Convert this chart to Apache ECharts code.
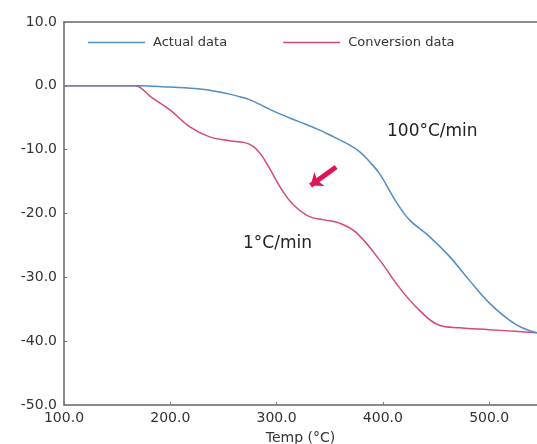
<!DOCTYPE html>
<html>
<head>
<meta charset="utf-8">
<script src="https://cdn.jsdelivr.net/npm/echarts@6/dist/echarts.min.js"></script>
<style>
  html, body { margin: 0; padding: 0; background: #fff; }
  #chart { width: 537px; height: 444px; }
</style>
</head>
<body>
<div id="chart"></div>
<script>
// Weight change (%) vs temperature, measured at 100 °C/min and converted to 1 °C/min
const actualData = [
  [100, 0], [170, 0], [200, -0.2], [228, -0.5], [250, -1.1], [265, -1.7],
  [275, -2.2], [290, -3.4], [303, -4.4], [321, -5.6], [340, -6.9], [350, -7.7],
  [368, -9.2], [378, -10.3], [387, -11.8], [397, -13.8], [413, -18.3], [425, -21.0],
  [443, -23.5], [462, -26.6], [481, -30.4], [500, -34.0], [519, -36.7], [531, -37.9],
  [545, -38.7]
];
const conversionData = [
  [100, 0], [166, 0], [183, -1.9], [200, -3.8], [218, -6.4], [237, -8.0],
  [256, -8.6], [270, -8.9], [278, -9.5], [285, -10.7], [293, -12.8], [305, -16.3],
  [315, -18.5], [331, -20.5], [345, -21.0], [359, -21.5], [375, -23.0], [397, -27.3],
  [415, -31.5], [434, -35.1], [453, -37.5], [472, -37.9], [500, -38.2], [528, -38.5],
  [545, -38.7]
];
const seriesNames = ['Actual data', 'Conversion data'];
const xTickLabels = ['100.0', '200.0', '300.0', '400.0', '500.0'];
const yTickLabels = ['-50.0', '-40.0', '-30.0', '-20.0', '-10.0', '0.0', '10.0'];
// Arrow showing the shift from the measured curve to the converted one
const shiftArrow = [[356, -12.7], [332, -15.6]];

const blue = '#4f8fc4';
const pink = '#d6477a';
const magenta = '#e0135c';
const fontFam = '"DejaVu Sans", Verdana, sans-serif';

const chart = echarts.init(document.getElementById('chart'));
chart.setOption({
  animation: false,
  backgroundColor: '#fff',
  grid: { left: 64, right: 0, top: 22, bottom: 39, outerBoundsMode: 'none', containLabel: false },
  legend: {
    data: seriesNames,
    left: 83, top: 31,
    itemWidth: 57, itemHeight: 1.5, itemGap: 56,
    icon: 'rect',
    textStyle: { fontSize: 13, color: '#333', fontFamily: fontFam, padding: [0, 0, 0, 3] }
  },
  xAxis: [{
    type: 'value', min: 100, max: 545, interval: 100,
    name: 'Temp (°C)', nameLocation: 'middle', nameGap: 26,
    nameTextStyle: { fontSize: 14, color: '#333', fontFamily: fontFam },
    axisLine: { onZero: false, lineStyle: { color: '#8a8a8a', width: 2 } },
    axisTick: { inside: true, length: 3, lineStyle: { color: '#777' } },
    axisLabel: {
      showMaxLabel: false, margin: 6, fontSize: 14, color: '#333', fontFamily: fontFam,
      formatter: v => xTickLabels[Math.round((v - 100) / 100)] || ''
    },
    splitLine: { show: false }
  }, {
    type: 'value', position: 'top', min: 100, max: 545,
    axisLine: { show: true, onZero: false, lineStyle: { color: '#666', width: 1.5 } },
    axisTick: { show: false }, axisLabel: { show: false }, splitLine: { show: false }
  }],
  yAxis: {
    type: 'value', min: -50, max: 10, interval: 10,
    axisLine: { show: true, onZero: false, lineStyle: { color: '#666', width: 1.5 } },
    axisTick: { show: true, inside: true, length: 3, lineStyle: { color: '#777' } },
    axisLabel: {
      margin: 7, fontSize: 14, color: '#333', fontFamily: fontFam,
      formatter: v => yTickLabels[Math.round((v + 50) / 10)] || ''
    },
    splitLine: { show: false }
  },
  series: [{
    name: seriesNames[0], type: 'line', data: actualData, smooth: 0.4,
    showSymbol: false, color: blue, lineStyle: { width: 1.5, color: blue }, z: 3
  }, {
    name: seriesNames[1], type: 'line', data: conversionData, smooth: 0.4,
    showSymbol: false, color: pink, lineStyle: { width: 1.5, color: pink }, z: 2,
    markLine: {
      silent: true, symbol: ['none', 'arrow'], symbolSize: [13, 11],
      label: { show: false },
      lineStyle: { color: magenta, width: 5, type: 'solid' },
      data: [[{ coord: shiftArrow[0] }, { coord: shiftArrow[1] }]]
    }
  }],
  graphic: [
    { type: 'text', left: 387, top: 123,
      style: { text: '100°C/min', fontSize: 17, fill: '#222', fontFamily: fontFam } },
    { type: 'text', left: 243, top: 235,
      style: { text: '1°C/min', fontSize: 17, fill: '#222', fontFamily: fontFam } }
  ]
});
</script>
</body>
</html>
